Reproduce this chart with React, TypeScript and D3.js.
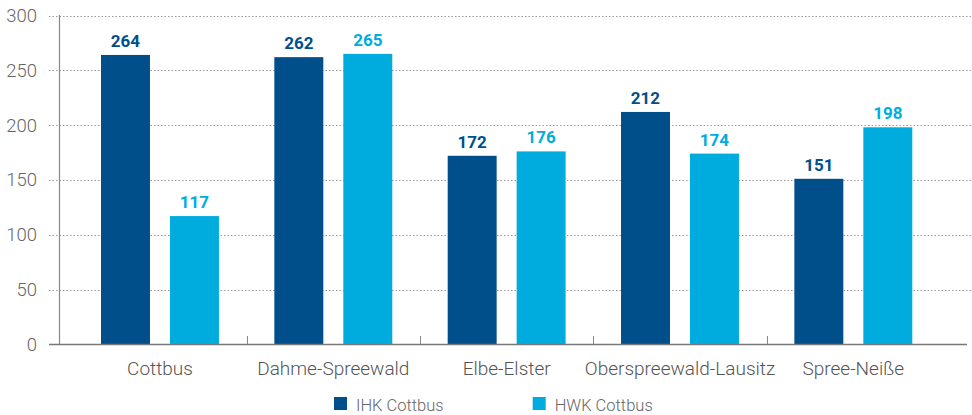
import React from "react";
import * as d3 from "d3";

const categories = ["Cottbus", "Dahme-Spreewald", "Elbe-Elster", "Oberspreewald-Lausitz", "Spree-Neiße"];
const seriesNames = ["IHK Cottbus", "HWK Cottbus"];
const ihkValues = [264, 262, 172, 212, 151];
const hwkValues = [117, 265, 176, 174, 198];
const yTicks = [0, 50, 100, 150, 200, 250, 300];

const W = 972;
const H = 415;
const colors = ["#004f8b", "#00acde"];

export default function App() {
  const x = d3.scaleBand<string>().domain(categories).range([73.3, 940]).paddingInner(0).paddingOuter(0);
  const xInner = d3
    .scaleBand<string>()
    .domain(seriesNames)
    .range([27.7, x.bandwidth() - 27.7])
    .paddingInner(0.29)
    .paddingOuter(0);
  const y = d3.scaleLinear().domain([0, 300]).range([344.3, 15.5]);
  const series = [ihkValues, hwkValues];
  const font = "Roboto, 'Noto Sans', sans-serif";

  return (
    <svg
      width={W}
      height={H}
      viewBox={`0 0 ${W} ${H}`}
      style={{ position: "absolute", left: 0, top: 0, background: "#fff" }}
    >
      {/* gridlines */}
      {yTicks
        .filter((t) => t > 0)
        .map((t) => (
          <line
            key={"g" + t}
            x1={49}
            x2={972}
            y1={Math.round(y(t)) + 0.5}
            y2={Math.round(y(t)) + 0.5}
            stroke="#999"
            strokeWidth={1}
            strokeDasharray="1.5 2"
          />
        ))}
      {/* y tick labels */}
      {yTicks.map((t) => (
        <text
          key={"yt" + t}
          x={37}
          y={y(t) + 6.5}
          textAnchor="end"
          fontFamily={font}
          fontWeight={300}
          fontSize={18.5}
          fill="#666"
        >
          {t}
        </text>
      ))}
      {/* bars */}
      {categories.map((c, i) =>
        seriesNames.map((s, j) => {
          const v = series[j][i];
          const bx = (x(c) as number) + (xInner(s) as number);
          return (
            <g key={c + s}>
              <rect x={bx} y={y(v)} width={xInner.bandwidth()} height={y(0) - y(v)} fill={colors[j]} />
              <text
                x={bx + xInner.bandwidth() / 2}
                y={y(v) - 8}
                textAnchor="middle"
                fontFamily={font}
                fontWeight={700}
                fontSize={17}
                fill={colors[j]}
              >
                {v}
              </text>
            </g>
          );
        })
      )}
      {/* y axis line */}
      <line x1={59.5} x2={59.5} y1={15} y2={344.5} stroke="#888" strokeWidth={1.2} />
      {/* baseline */}
      <line x1={49} x2={967} y1={344.5} y2={344.5} stroke="#777" strokeWidth={1.5} />
      {/* category boundary ticks */}
      {categories.slice(1).map((c) => (
        <line
          key={"tk" + c}
          x1={Math.round(x(c) as number) + 0.5}
          x2={Math.round(x(c) as number) + 0.5}
          y1={336}
          y2={344}
          stroke="#888"
          strokeWidth={1}
        />
      ))}
      {/* category labels */}
      {categories.map((c) => (
        <text
          key={"cl" + c}
          x={(x(c) as number) + x.bandwidth() / 2}
          y={374.5}
          textAnchor="middle"
          fontFamily={font}
          fontWeight={300}
          fontSize={19}
          fill="#555"
        >
          {c}
        </text>
      ))}
      {/* legend */}
      {seriesNames.map((s, j) => {
        const lx = [334, 532.7][j];
        return (
          <g key={"lg" + s}>
            <rect x={lx} y={397} width={13} height={13} fill={colors[j]} />
            <text x={lx + 22} y={410.5} fontFamily={font} fontWeight={300} fontSize={16.5} fill="#666">
              {s}
            </text>
          </g>
        );
      })}
    </svg>
  );
}
